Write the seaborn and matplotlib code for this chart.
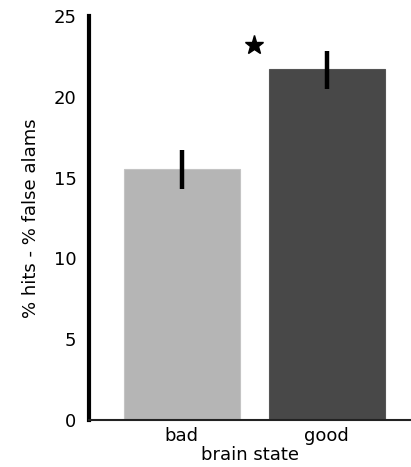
import pandas as pd
import matplotlib
matplotlib.use("Agg")
import matplotlib.pyplot as plt
import seaborn as sns

# valores
estados = ["bad", "good"]
medias = [15.55, 21.75]
err_bajo = [14.3, 20.5]
err_alto = [16.7, 22.85]
colores = ["#b5b5b5", "#484848"]
estrella_y = 23.2

sns.set_theme(style="white")
plt.rcParams["font.family"] = ["DejaVu Sans"]

df = pd.DataFrame({"estado": estados, "valor": medias})

fig = plt.figure(figsize=(4.11, 4.67), dpi=100)
ax = fig.add_axes([0.2165, 0.1006, 0.7835, 0.8651])

sns.barplot(data=df, x="estado", y="valor", hue="estado", palette=colores,
            width=0.8, errorbar=None, legend=False, ax=ax, linewidth=0.8)
for i, b in enumerate(ax.patches):
    b.set_edgecolor(["#c4c4c4", "#555555"][i])

ax.vlines(range(len(estados)), err_bajo, err_alto, color="black", linewidth=3.2)
ax.plot(0.5, estrella_y, marker="*", color="black", markersize=14)

ax.set_ylim(0, 25)
ax.set_xlim(-0.64, 1.58)
ax.set_yticks([0, 5, 10, 15, 20, 25])
ax.tick_params(axis="both", length=0, labelsize=13, colors="black", pad=9)
ax.tick_params(axis="x", pad=5)

sns.despine(ax=ax, top=True, right=True)
ax.spines["left"].set_linewidth(3)
ax.spines["left"].set_color("black")
ax.spines["bottom"].set_linewidth(1.5)
ax.spines["bottom"].set_color("#222222")

ax.set_xlabel("brain state", fontsize=13, labelpad=1, color="black")
ax.set_ylabel("% hits - % false alams", fontsize=13, labelpad=10, color="black")

fig.savefig("out.png", dpi=100)
